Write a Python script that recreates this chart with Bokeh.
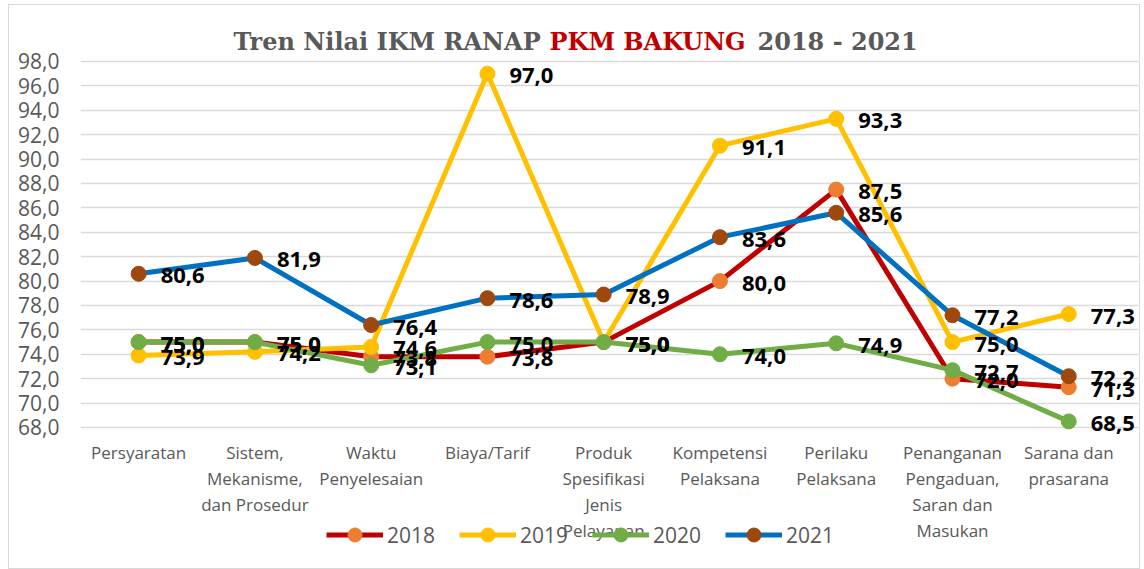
from bokeh.plotting import figure
from bokeh.models import Range1d, FixedTicker, Label, Legend, LegendItem, ColumnDataSource
from bokeh.embed import file_html
from bokeh.resources import INLINE
from bokeh.core.properties import value

categories = ["Persyaratan", "Sistem,\nMekanisme,\ndan Prosedur", "Waktu\nPenyelesaian",
              "Biaya/Tarif", "Produk\nSpesifikasi\nJenis\nPelayanan", "Kompetensi\nPelaksana",
              "Perilaku\nPelaksana", "Penanganan\nPengaduan,\nSaran dan\nMasukan",
              "Sarana dan\nprasarana"]
series_names = ["2018", "2019", "2020", "2021"]
y2018 = [75.0, 75.0, 73.8, 73.8, 75.0, 80.0, 87.5, 72.0, 71.3]
y2019 = [73.9, 74.2, 74.6, 97.0, 75.0, 91.1, 93.3, 75.0, 77.3]
y2020 = [75.0, 75.0, 73.1, 75.0, 75.0, 74.0, 74.9, 72.7, 68.5]
y2021 = [80.6, 81.9, 76.4, 78.6, 78.9, 83.6, 85.6, 77.2, 72.2]
y_ticks = [68, 70, 72, 74, 76, 78, 80, 82, 84, 86, 88, 90, 92, 94, 96, 98]

line_colors = ["#C00000", "#FFC000", "#70AD47", "#0070C0"]
marker_colors = ["#ED7D31", "#FFC000", "#70AD47", "#9E480E"]

xpos = list(range(len(categories)))

# frame spans the whole drawing area; the value axis 68..98 occupies the middle part
p = figure(x_range=Range1d(-0.5, len(categories) - 0.40), y_range=Range1d(57.016, 101.770),
           width=1132, height=565, output_backend="svg", toolbar_location=None,
           min_border_left=71, min_border_right=3, min_border_top=10, min_border_bottom=9)
p.styles = {"margin-left": "8px", "margin-top": "4px", "border": "1px solid #D9D9D9"}
p.outline_line_color = None
p.xgrid.grid_line_color = None
p.ygrid.grid_line_color = "#D9D9D9"
p.ygrid.grid_line_width = 1.5
p.yaxis.ticker = FixedTicker(ticks=y_ticks)
p.yaxis.major_label_overrides = {t: f"{t:.1f}".replace(".", ",") for t in y_ticks}
p.xaxis.ticker = FixedTicker(ticks=xpos)
p.xaxis.major_label_overrides = {i: c for i, c in zip(xpos, categories)}
for ax in (p.xaxis[0], p.yaxis[0]):
    ax.axis_line_color = None
    ax.major_tick_line_color = None
    ax.minor_tick_line_color = None
    ax.major_label_text_color = "#595959"
    ax.major_label_text_font = "Open Sans"
p.yaxis.major_label_text_font_size = "21px"
p.yaxis.major_label_standoff = 15
p.xaxis.fixed_location = 68
p.xaxis.major_label_text_font_size = "17px"
p.xaxis.major_label_text_line_height = 1.12
p.xaxis.major_label_standoff = 8

items = []
for name, ys, lc, mc in zip(series_names, [y2018, y2019, y2020, y2021], line_colors, marker_colors):
    src = ColumnDataSource(dict(x=xpos, y=ys))
    r1 = p.line("x", "y", source=src, line_color=lc, line_width=5)
    r2 = p.scatter("x", "y", source=src, size=15, fill_color=mc, line_color=mc)
    items.append(LegendItem(label=name, renderers=[r1, r2]))

for name, ys in zip(series_names, [y2018, y2019, y2020, y2021]):
    src = ColumnDataSource(dict(x=xpos, y=ys, lab=[f"{v:.1f}".replace(".", ",") for v in ys]))
    p.text("x", "y", text="lab", source=src, x_offset=22, y_offset=2,
           text_font=value("Open Sans"), text_font_style="bold", text_font_size="22px",
           text_color="#000000", text_baseline="middle", text_align="left")

legend = Legend(items=items, orientation="horizontal", location=(246, 9),
                label_text_font="Open Sans", label_text_font_size="21px",
                label_text_color="#595959", glyph_width=57, glyph_height=35,
                label_standoff=4, spacing=24, padding=0, margin=0,
                border_line_color=None, background_fill_alpha=0)
p.add_layout(legend, "center")

tfont = "DejaVu Serif"
for txt, xx, col in [("Tren Nilai IKM RANAP", 153, "#595959"), ("PKM BAKUNG", 469, "#C00000"),
                     ("2018 - 2021", 677, "#595959")]:
    p.add_layout(Label(x=xx, y=520, x_units="screen", y_units="screen", text=txt,
                       text_font=tfont, text_font_style="bold", text_font_size="24px",
                       text_color=col, text_baseline="middle", text_align="left"))

open("out.html", "w").write(file_html(p, INLINE))
